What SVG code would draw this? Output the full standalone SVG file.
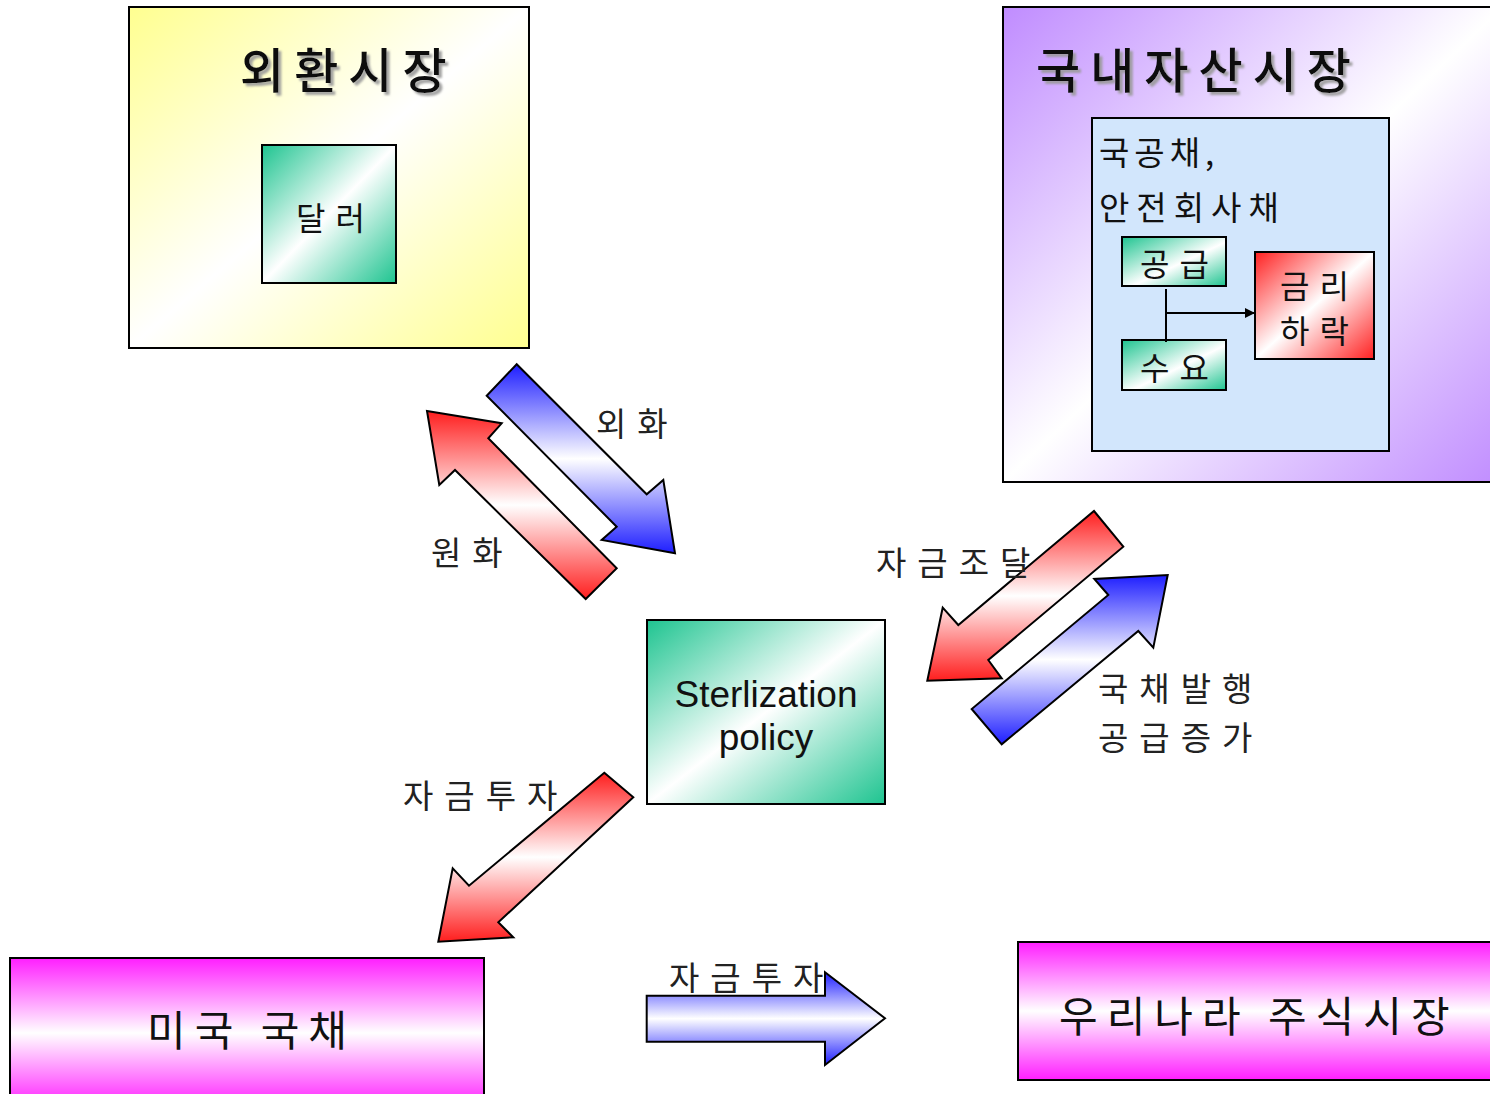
<svg xmlns="http://www.w3.org/2000/svg" width="1490" height="1094" viewBox="0 0 1490 1094">
<defs>
<linearGradient id="gYellow" x1="0" y1="0" x2="1" y2="1"><stop offset="0" stop-color="#ffff90"/><stop offset="0.5" stop-color="#ffffff"/><stop offset="1" stop-color="#ffff90"/></linearGradient>
<linearGradient id="gPurple" x1="0" y1="0" x2="1" y2="1"><stop offset="0" stop-color="#c08cff"/><stop offset="0.5" stop-color="#ffffff"/><stop offset="1" stop-color="#c08cff"/></linearGradient>
<linearGradient id="gGreen" x1="0" y1="0" x2="1" y2="1"><stop offset="0" stop-color="#1ec490"/><stop offset="0.5" stop-color="#ffffff"/><stop offset="1" stop-color="#1ec490"/></linearGradient>
<linearGradient id="gGreenTL" x1="0" y1="0" x2="1" y2="1"><stop offset="0" stop-color="#1ec490"/><stop offset="0.55" stop-color="#ffffff"/><stop offset="1" stop-color="#1ec490"/></linearGradient>
<linearGradient id="gRedBox" x1="0" y1="0" x2="1" y2="1"><stop offset="0" stop-color="#ff2020"/><stop offset="0.5" stop-color="#ffffff"/><stop offset="1" stop-color="#ff2020"/></linearGradient>
<linearGradient id="gRed" x1="0" y1="0" x2="0" y2="1"><stop offset="0" stop-color="#ff1e1e"/><stop offset="0.5" stop-color="#ffffff"/><stop offset="1" stop-color="#ff1e1e"/></linearGradient>
<linearGradient id="gBlue" x1="0" y1="0" x2="0" y2="1"><stop offset="0" stop-color="#1e1eff"/><stop offset="0.5" stop-color="#ffffff"/><stop offset="1" stop-color="#1e1eff"/></linearGradient>
<linearGradient id="gMagenta" x1="0" y1="0" x2="0" y2="1"><stop offset="0" stop-color="#ff1eff"/><stop offset="0.5" stop-color="#ffffff"/><stop offset="1" stop-color="#ff1eff"/></linearGradient>
<filter id="shadow" x="-10%" y="-20%" width="130%" height="150%"><feDropShadow dx="3" dy="3" stdDeviation="1" flood-color="#9a9a9a" flood-opacity="0.9"/></filter>
<marker id="arr" markerWidth="10" markerHeight="10" refX="9" refY="5" orient="auto" markerUnits="userSpaceOnUse"><path d="M0,0 L10,5 L0,10 Z" fill="#000"/></marker>
<style>
.box{stroke:#000;stroke-width:2}
.kr{font-family:"Noto Sans CJK KR","Noto Sans",sans-serif;fill:#111}
.title{font-size:48px;font-weight:500;filter:url(#shadow)}
.lbl{font-size:33px;letter-spacing:11px;fill:#222}
.blk{stroke:#000;stroke-width:2;stroke-linejoin:miter}
</style>
</defs>
<rect width="1490" height="1094" fill="#fff"/>

<g id="fx-market">
<rect class="box" x="129" y="7" width="400" height="341" fill="url(#gYellow)"/>
<text class="kr title" x="240" y="88" letter-spacing="10">외환시장</text>
</g>
<g id="dollar">
<rect class="box" x="262" y="145" width="134" height="138" fill="url(#gGreen)"/>
<text class="kr" x="296" y="230" font-size="32" letter-spacing="10">달러</text>
</g>

<g id="domestic-market">
<rect class="box" x="1003" y="7" width="500" height="475" fill="url(#gPurple)"/>
<text class="kr title" x="1036" y="88" letter-spacing="10">국내자산시장</text>
</g>
<g id="bonds">
<rect class="box" x="1092" y="118" width="297" height="333" fill="#d2e6fc"/>
<text class="kr" x="1099" y="165" font-size="33" letter-spacing="5">국공채,</text>
<text class="kr" x="1099" y="220" font-size="33" letter-spacing="7">안전회사채</text>
</g>
<g id="supply">
<rect class="box" x="1122" y="237" width="104" height="49" fill="url(#gGreenTL)"/>
<text class="kr" x="1140" y="276" font-size="32" letter-spacing="10">공급</text>
</g>
<g id="demand">
<rect class="box" x="1122" y="340" width="104" height="50" fill="url(#gGreenTL)"/>
<text class="kr" x="1140" y="380" font-size="32" letter-spacing="10">수요</text>
</g>
<g id="rate-fall">
<rect class="box" x="1255" y="252" width="119" height="107" fill="url(#gRedBox)"/>
<text class="kr" x="1280" y="298" font-size="32" letter-spacing="10">금리</text>
<text class="kr" x="1280" y="343" font-size="32" letter-spacing="10">하락</text>
</g>

<g id="sterilization">
<rect class="box" x="647" y="620" width="238" height="184" fill="url(#gGreen)"/>
<text x="766" y="707" font-family="Liberation Sans, Arial, sans-serif" font-size="37" text-anchor="middle" fill="#111">Sterlization</text>
<text x="766" y="750" font-family="Liberation Sans, Arial, sans-serif" font-size="37" text-anchor="middle" fill="#111">policy</text>
</g>

<g id="us-bonds">
<rect class="box" x="10" y="958" width="474" height="150" fill="url(#gMagenta)"/>
<text class="kr" x="147" y="1046" font-size="42" letter-spacing="9">미국 국채</text>
</g>
<g id="kr-stocks">
<rect class="box" x="1018" y="942" width="490" height="138" fill="url(#gMagenta)"/>
<text class="kr" x="1059" y="1032" font-size="42" letter-spacing="9">우리나라 주식시장</text>
</g>

<g id="connectors">
<path d="M1166,289 L1166,342 M1166,313 L1254,313" stroke="#000" stroke-width="2" fill="none" marker-end="url(#arr)"/>
<polygon class="blk" fill="url(#gBlue)" points="516.7,364.3 486.7,395.7 616.7,526.7 601.7,540 675,553.3 663.3,480 646.7,494.3"/>
<polygon class="blk" fill="url(#gRed)" points="427,411 501.7,423.3 488.3,438.3 616.7,568.3 585.7,599 455,470 439.3,485"/>
<polygon class="blk" fill="url(#gRed)" points="1094,511 1123.3,546.7 988.3,660 1001.7,678.3 927.3,680.7 942.7,607.7 958.3,625"/>
<polygon class="blk" fill="url(#gBlue)" points="971.7,709 1001.7,744.3 1138.3,631 1153.3,647.7 1167.7,575 1094.3,579 1108.3,595"/>
<polygon class="blk" fill="url(#gRed)" points="604.3,772.7 633.3,797.3 498.3,922.3 513.3,937.3 438.3,941.7 452.7,868.3 469,885.7"/>
<polygon class="blk" fill="url(#gBlue)" points="646.7,995.7 825,995.7 825,972.3 885,1018.3 825,1065 825,1041.7 646.7,1041.7"/>
<text class="kr lbl" x="596" y="436">외화</text>
<text class="kr lbl" x="431" y="565">원화</text>
<text class="kr lbl" x="876" y="575">자금조달</text>
<text class="kr lbl" x="1098" y="701">국채발행</text>
<text class="kr lbl" x="1098" y="750">공급증가</text>
<text class="kr lbl" x="403" y="808">자금투자</text>
<text class="kr lbl" x="669" y="990">자금투자</text>
</g>
</svg>
